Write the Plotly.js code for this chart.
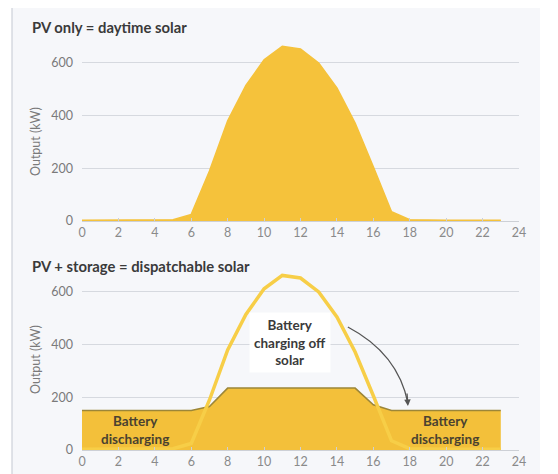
<!DOCTYPE html>
<html>
<head>
<meta charset="utf-8">
<script src="https://cdn.plot.ly/plotly-3.0.1.min.js"></script>
<style>html,body{margin:0;padding:0;background:#fff;}#chart{width:558px;height:474px;}</style>
</head>
<body>
<div id="chart"></div>
<script>
// Hours of the day
const hours = [0,1,2,3,4,5,6,7,8,9,10,11,12,13,14,15,16,17,18,19,20,21,22,23];
// PV output (kW)
const pvOutput = [3,3,3,3,3,5,25,190,380,515,612,663,653,600,505,372,206,35,5,3,3,3,3,3];
// PV + storage dispatched output (kW)
const dispatchOutput = [150,150,150,150,150,150,150,165,235,235,235,235,235,235,235,235,172,150,150,150,150,150,150,150];
// Axis ticks
const xTicks = [0,2,4,6,8,10,12,14,16,18,20,22,24];
const yTicks = [0,200,400,600];
// Texts
const titleTop = "PV only = daytime solar";
const titleBottom = "PV + storage = dispatchable solar";
const yTitle = "Output (kW)";
const chargeLabel = "Battery<br>charging off<br>solar";
const dischargeLabel = "Battery<br>discharging";

const FONT = "Lato, 'Open Sans', sans-serif";
const fillTop = "#F5C23B";
const fillBottom = "#F3C03A";
const edgeColor = "#9C8638";
const pvLine = "#F7CE47";

const traces = [
  {x: hours, y: pvOutput, xaxis: 'x', yaxis: 'y', type: 'scatter', mode: 'lines',
   fill: 'tozeroy', fillcolor: fillTop, line: {color: fillTop, width: 1.5}, hoverinfo: 'skip'},
  {x: hours, y: dispatchOutput, xaxis: 'x2', yaxis: 'y2', type: 'scatter', mode: 'lines',
   fill: 'tozeroy', fillcolor: fillBottom, line: {color: edgeColor, width: 1.5}, hoverinfo: 'skip'},
  {x: hours, y: pvOutput, xaxis: 'x2', yaxis: 'y2', type: 'scatter', mode: 'lines',
   line: {color: pvLine, width: 3.5}, hoverinfo: 'skip'}
];

const xDom = [82/558, 519/558];
const axisX = (anchor, dom) => ({
  domain: dom, anchor: anchor, range: [0, 24], tickvals: xTicks, ticktext: xTicks.map(String),
  showgrid: false, zeroline: false, showline: true, linecolor: '#CDD0D6', linewidth: 1,
  ticks: 'inside', ticklen: 3, tickcolor: '#CDD0D6',
  tickfont: {family: FONT, size: 12.5, color: '#8A8A8A'}, fixedrange: true
});
const axisY = (anchor, dom) => ({
  domain: dom, anchor: anchor, range: [0, 690], tickvals: yTicks, ticktext: yTicks.map(String),
  showgrid: true, gridcolor: '#D6D9DF', gridwidth: 1, zeroline: false, showline: false,
  ticks: '', ticklabelstandoff: 8,
  tickfont: {family: FONT, size: 12.5, color: '#7A7A7A'}, fixedrange: true
});

const layout = {
  width: 558, height: 474,
  margin: {l: 0, r: 0, t: 0, b: 0},
  paper_bgcolor: '#FFFFFF', plot_bgcolor: 'rgba(0,0,0,0)',
  showlegend: false,
  xaxis: axisX('y', xDom),
  yaxis: axisY('x', [0.5338, 0.9171]),
  xaxis2: axisX('y2', xDom),
  yaxis2: axisY('x2', [0.0506, 0.4340]),
  shapes: [
    {type: 'rect', xref: 'paper', yref: 'paper', x0: 12/558, x1: 540/558, y0: 0, y1: (474-8)/474,
     fillcolor: '#F6F7FA', line: {width: 0}, layer: 'below'},
    {type: 'line', xref: 'paper', yref: 'paper', x0: 12/558, x1: 12/558, y0: 0, y1: (474-8)/474,
     line: {color: '#CDD1D9', width: 1.2}, layer: 'below'},
    {type: 'path', xref: 'x2', yref: 'y2', path: 'M14.6,467 Q17.35,367 17.9,178',
     line: {color: '#555555', width: 1.3}}
  ],
  annotations: [
    {xref: 'paper', yref: 'paper', x: 30/558, y: (474-27)/474, xanchor: 'left', yanchor: 'middle',
     text: '<b>' + titleTop + '</b>', showarrow: false, font: {family: FONT, size: 14.8, color: '#3A3A3A'}},
    {xref: 'paper', yref: 'paper', x: 30/558, y: (474-266)/474, xanchor: 'left', yanchor: 'middle',
     text: '<b>' + titleBottom + '</b>', showarrow: false, font: {family: FONT, size: 14.8, color: '#3A3A3A'}},
    {xref: 'paper', yref: 'paper', x: 35/558, y: (474-142)/474, xanchor: 'center', yanchor: 'middle',
     text: yTitle, textangle: -90, showarrow: false, font: {family: FONT, size: 12.5, color: '#7A7A7A'}},
    {xref: 'paper', yref: 'paper', x: 35/558, y: (474-360)/474, xanchor: 'center', yanchor: 'middle',
     text: yTitle, textangle: -90, showarrow: false, font: {family: FONT, size: 12.5, color: '#7A7A7A'}},
    {xref: 'x2', yref: 'y2', x: 11.4, y: 407, text: '<b>' + chargeLabel + '</b>', showarrow: false,
     bgcolor: 'rgba(255,255,255,0.92)', borderpad: 4, font: {family: FONT, size: 13.5, color: '#3A3A3A'}},
    {xref: 'x2', yref: 'y2', x: 2.9, y: 76, text: '<b>' + dischargeLabel + '</b>', showarrow: false,
     font: {family: FONT, size: 13.5, color: '#4A4230'}},
    {xref: 'x2', yref: 'y2', x: 19.95, y: 76, text: '<b>' + dischargeLabel + '</b>', showarrow: false,
     font: {family: FONT, size: 13.5, color: '#4A4230'}},
    {xref: 'x2', yref: 'y2', x: 17.9, y: 167, ax: -1, ay: -14, text: '', showarrow: true,
     arrowhead: 2, arrowsize: 1, arrowwidth: 1.3, arrowcolor: '#555555'}
  ]
};

Plotly.newPlot('chart', traces, layout, {displayModeBar: false, staticPlot: true});
</script>
</body>
</html>
